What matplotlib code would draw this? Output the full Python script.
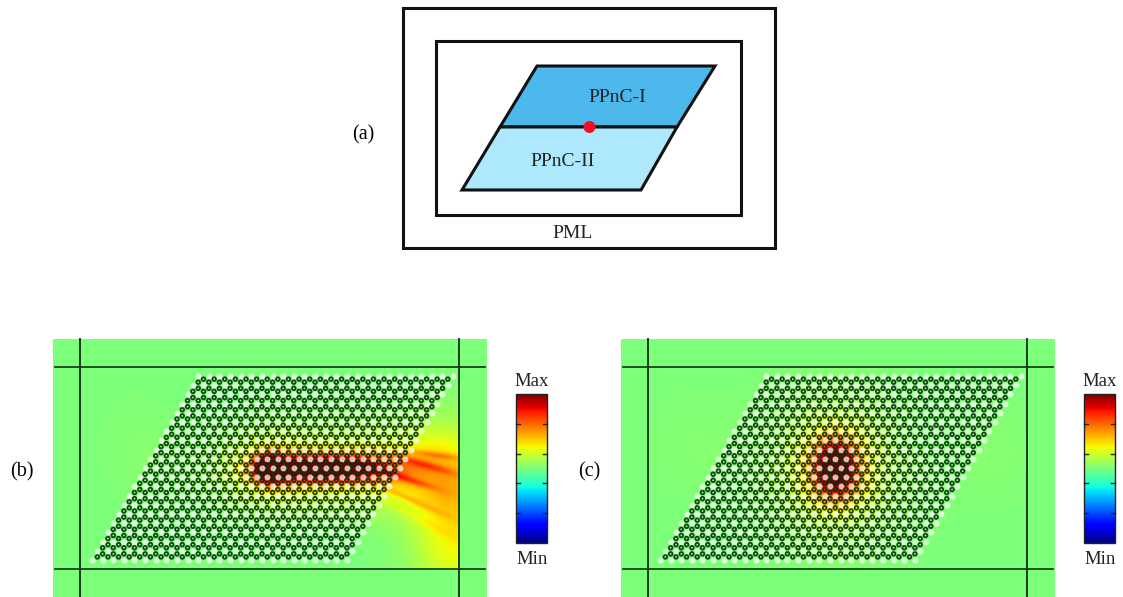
import matplotlib
matplotlib.use('Agg')
import matplotlib.pyplot as plt
import numpy as np
from matplotlib.patches import Polygon, Rectangle, Circle

plt.rcParams['font.family'] = ['Liberation Serif', 'DejaVu Serif']

# panel (a) schematic, read in reference pixels
outer_box = [403, 8, 775, 248]
inner_box = [436, 41, 741, 215]
ppnc1_x = [537, 715, 677, 500]
ppnc1_y = [66, 66, 127, 127]
ppnc2_x = [500, 677, 641, 462]
ppnc2_y = [127, 127, 190, 190]
source_xy = (589.5, 127)

# field panels
panel_left = [53, 621]
panel_top, panel_bottom = 339, 597
panel_width = 434
pml_x = [27, 406]   # from panel left edge
pml_y = [367, 569]
corner_bl = [92, 660]
corner_y = 560
lattice_a = 10.62
n_cols = 24
n_rows = 20

# hot spots: x (from panel left), y, sigma along, sigma across, angle, amplitude
blobs_b = [
    (216, 468, 10, 10, 0, 0.42),
    (216, 468, 26, 24, 0, 0.10),
    (250, 468, 32, 10, 0, 0.31),
    (300, 468, 34, 10, 0, 0.31),
    (275, 468, 72, 28, 0, 0.14),
    (402, 520, 30, 58, 0, 0.16),
    (370, 470, 42, 28, 12, 0.10),
    (385, 455, 20, 2.2, 8, 0.09),
    (370, 464, 24, 2.8, 16, 0.12),
    (352, 478, 22, 2.4, 18, 0.13),
    (355, 498, 28, 2.4, 24, 0.07),
    (365, 518, 30, 2.5, 28, 0.03),
    (85, 445, 25, 35, 0, 0.012),
]
blobs_c = [
    (214, 468, 12, 17, 0, 0.34),
    (214, 468, 24, 28, 0, 0.24),
    (214, 468, 48, 48, 0, 0.10),
    (375, 450, 30, 35, 0, 0.015),
    (70, 445, 30, 35, 0, 0.012),
]
panel_blobs = [blobs_b, blobs_c]

colorbar_x = [516, 1084]
colorbar_width = 31
colorbar_top, colorbar_bottom = 394, 543
colorbar_ticks = [0.2, 0.4, 0.6, 0.8]


def field(blobs):
    xx, yy = np.meshgrid(np.arange(panel_width), np.arange(panel_top, panel_bottom))
    z = np.full(xx.shape, 0.5)
    for x0, y0, s1, s2, ang, amp in blobs:
        t = np.deg2rad(ang)
        u = (xx - x0) * np.cos(t) + (yy - y0) * np.sin(t)
        v = -(xx - x0) * np.sin(t) + (yy - y0) * np.cos(t)
        z += amp * np.exp(-(u / s1) ** 2 / 2 - (v / s2) ** 2 / 2)
    # absorbing layer outside the PML lines stays flat
    outside = (xx < pml_x[0]) | (xx > pml_x[1]) | (yy < pml_y[0]) | (yy > pml_y[1])
    z[outside] = 0.5
    return np.clip(z, 0, 1)


fig = plt.figure(figsize=(11.23, 5.97), dpi=100)
ax = fig.add_axes([0, 0, 1, 1])

# (a)
for x0, y0, x1, y1 in [outer_box, inner_box]:
    ax.add_patch(Rectangle((x0, y0), x1 - x0, y1 - y0, fc='none', ec='#111111', lw=2.2))
ax.add_patch(Polygon(np.c_[ppnc1_x, ppnc1_y], fc='#4db8ec', ec='#111111', lw=2.2))
ax.add_patch(Polygon(np.c_[ppnc2_x, ppnc2_y], fc='#ade8fd', ec='#111111', lw=2.2))
ax.add_patch(Circle(source_xy, 6, fc='#f01020', ec='none', zorder=5))
ax.text(617, 97, 'PPnC-I', fontsize=14, ha='center', va='center', color='#222222')
ax.text(563, 161, 'PPnC-II', fontsize=14, ha='center', va='center', color='#222222')
ax.text(573, 233, 'PML', fontsize=14, ha='center', va='center', color='#222222')
ax.text(363, 135, '(a)', fontsize=14.5, ha='center', va='center')

# (b), (c)
for k in range(2):
    left = panel_left[k]
    ax.imshow(field(panel_blobs[k]), cmap='jet', vmin=0, vmax=1, aspect='auto',
              extent=[left, left + panel_width, panel_bottom, panel_top], interpolation='bilinear')
    for x in pml_x:
        ax.plot([left + x, left + x], [panel_top, panel_bottom], color='#1c3a1c', lw=1.4)
    for y in pml_y:
        ax.plot([left + 2, left + panel_width - 2], [y, y], color='#123012', lw=1.2)

    a = lattice_a
    h = a * np.sqrt(3) / 2
    white, ring = [], []
    for j in range(n_rows + 1):
        for i in range(n_cols + 1):
            x = corner_bl[k] + i * a + j * a / 2
            y = corner_y - j * h
            white.append((x, y))
            if i < n_cols and j < n_rows:
                ring.append((x + a / 2, y - h / 3))
                ring.append((x + a, y - 2 * h / 3))
    white = np.array(white)
    ring = np.array(ring)
    ax.scatter(white[:, 0], white[:, 1], s=19, color='#f6fff6', alpha=0.75, lw=0, zorder=3)
    ax.scatter(ring[:, 0], ring[:, 1], s=7, facecolors='none', edgecolors='#0a2c0c', lw=1.25,
               alpha=0.9, zorder=3)

    # colour bar
    cx = colorbar_x[k]
    grad = np.linspace(1, 0, 256)[:, None]
    ax.imshow(grad, cmap='jet', vmin=0, vmax=1, aspect='auto',
              extent=[cx, cx + colorbar_width, colorbar_bottom, colorbar_top])
    ax.add_patch(Rectangle((cx, colorbar_top), colorbar_width, colorbar_bottom - colorbar_top,
                           fc='none', ec='#222222', lw=1.0))
    for t in colorbar_ticks:
        y = colorbar_bottom - t * (colorbar_bottom - colorbar_top)
        ax.plot([cx, cx + 4], [y, y], color='#222222', lw=1.0)
        ax.plot([cx + colorbar_width - 4, cx + colorbar_width], [y, y], color='#222222', lw=1.0)
    ax.text(cx + 16, 381, 'Max', fontsize=13.5, ha='center', va='center', color='#222222')
    ax.text(cx + 16, 559, 'Min', fontsize=13.5, ha='center', va='center', color='#222222')

ax.text(22, 472, '(b)', fontsize=14.5, ha='center', va='center')
ax.text(589, 472, '(c)', fontsize=14.5, ha='center', va='center')

ax.set_xlim(0, 1123)
ax.set_ylim(597, 0)
ax.axis('off')
fig.savefig('out.png', dpi=100)
